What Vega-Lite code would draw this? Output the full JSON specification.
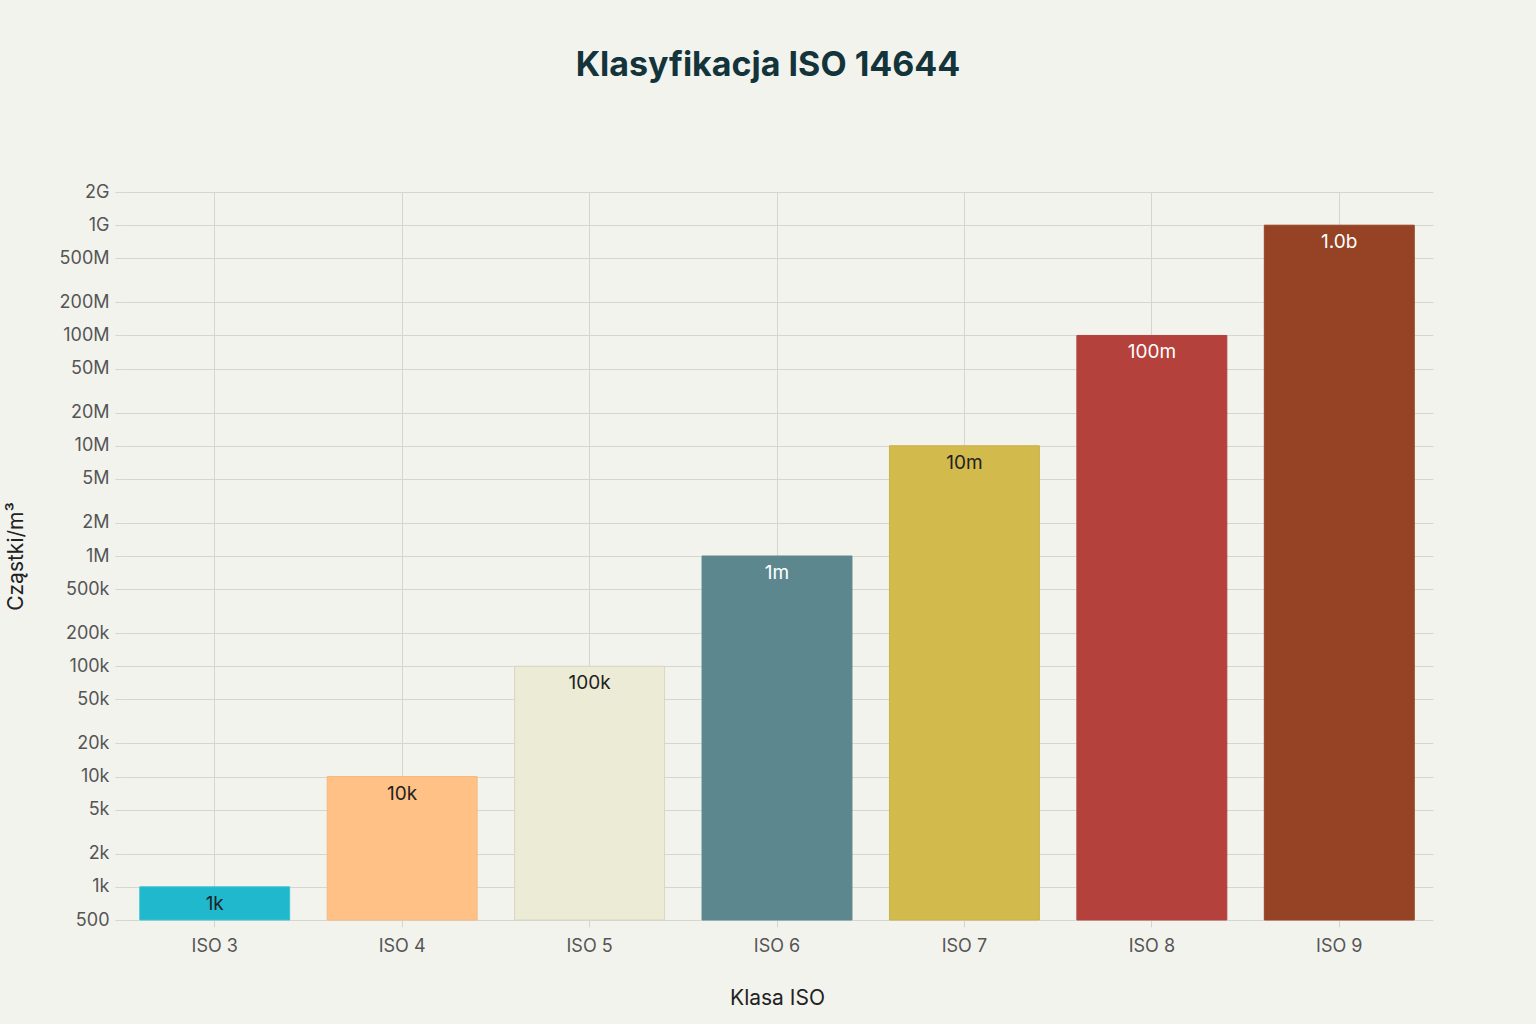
{
  "$schema": "https://vega.github.io/schema/vega-lite/v6.json",
  "autosize": {"type": "none"},
  "width": 1312,
  "height": 728,
  "padding": {"left": 121, "top": 192, "right": 103, "bottom": 104},
  "background": "#F3F3EE",
  "view": {"stroke": null},
  "config": {
    "font": "Inter",
    "axis": {
      "gridColor": "#D6D6D0",
      "gridWidth": 1,
      "tickColor": "#D6D6D0",
      "domain": false,
      "labelColor": "#555555",
      "labelFontSize": 18,
      "titleColor": "#222222",
      "titleFontSize": 21,
      "titleFontWeight": "normal"
    }
  },
  "title": {
    "text": "Klasyfikacja ISO 14644",
    "fontSize": 34,
    "fontWeight": "bold",
    "color": "#13343B",
    "anchor": "middle",
    "dx": -9,
    "offset": 100
  },
  "data": {
    "values": [
      {"klasa": "ISO 3", "value": 1000, "label": "1k"},
      {"klasa": "ISO 4", "value": 10000, "label": "10k"},
      {"klasa": "ISO 5", "value": 100000, "label": "100k"},
      {"klasa": "ISO 6", "value": 1000000, "label": "1m"},
      {"klasa": "ISO 7", "value": 10000000, "label": "10m"},
      {"klasa": "ISO 8", "value": 100000000, "label": "100m"},
      {"klasa": "ISO 9", "value": 1000000000, "label": "1.0b"}
    ]
  },
  "encoding": {
    "x": {
      "field": "klasa",
      "type": "nominal",
      "sort": null,
      "title": "Klasa ISO",
      "scale": {"paddingInner": 0.2, "paddingOuter": 0.1},
      "axis": {
        "labelAngle": 0,
        "grid": true,
        "tickSize": 7,
        "labelPadding": 10,
        "titlePadding": 32,
        "bandPosition": 0.5
      }
    },
    "y": {
      "field": "value",
      "type": "quantitative",
      "title": "Cząstki/m³",
      "scale": {"type": "log", "domain": [500, 2000000000], "nice": false},
      "axis": {
        "values": [500, 1000, 2000, 5000, 10000, 20000, 50000, 100000, 200000, 500000, 1000000, 2000000, 5000000, 10000000, 20000000, 50000000, 100000000, 200000000, 500000000, 1000000000, 2000000000],
        "format": "~s",
        "tickSize": 6,
        "labelPadding": 6,
        "titlePadding": 33
      }
    }
  },
  "layer": [
    {
      "mark": {"type": "bar", "strokeWidth": 1},
      "encoding": {
        "y2": {"datum": 500},
        "color": {
          "field": "klasa",
          "type": "nominal",
          "legend": null,
          "scale": {
            "domain": ["ISO 3", "ISO 4", "ISO 5", "ISO 6", "ISO 7", "ISO 8", "ISO 9"],
            "range": ["#1FB8CD", "#FFC185", "#ECEBD5", "#5D878F", "#D2BA4C", "#B4413C", "#964325"]
          }
        },
        "stroke": {
          "field": "klasa",
          "type": "nominal",
          "legend": null,
          "scale": {
            "domain": ["ISO 3", "ISO 4", "ISO 5", "ISO 6", "ISO 7", "ISO 8", "ISO 9"],
            "range": ["#3EC3D5", "#F5B97E", "#D9D7BD", "#5D878F", "#C9B24C", "#B4413C", "#964325"]
          }
        }
      }
    },
    {
      "mark": {"type": "text", "baseline": "top", "align": "center", "dy": 8, "fontSize": 19},
      "encoding": {
        "text": {"field": "label"},
        "color": {
          "condition": {"test": "indexof(['ISO 6', 'ISO 8', 'ISO 9'], datum.klasa) >= 0", "value": "#FFFFFF"},
          "value": "#222222"
        }
      }
    }
  ]
}
